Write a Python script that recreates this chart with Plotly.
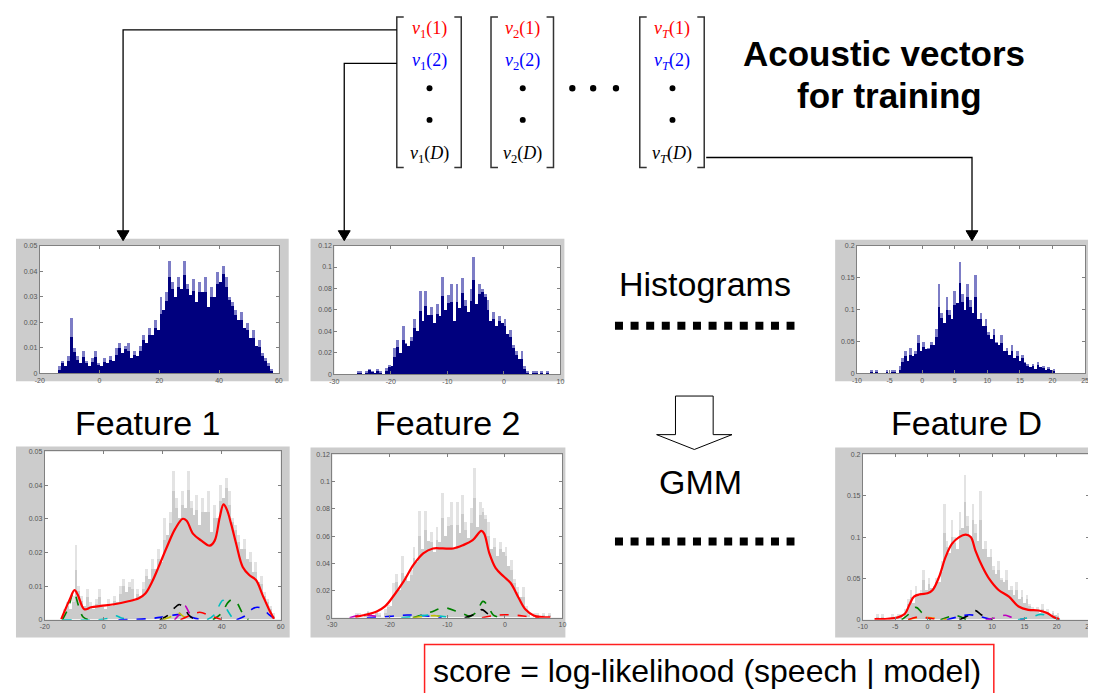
import numpy as np
import plotly.graph_objects as go

W, H = 1096, 693
OFF = 8  # page body margin of the browser
FW, FH = W - OFF, H - OFF

# ---------------- data ----------------
# Feature 1 histogram (bins of width 1 starting at -14)
F1_BIN_START, F1_BIN_WIDTH = -14.0, 1.0
F1_HEIGHTS = [0.003, 0.005, 0.003, 0.007, 0.022, 0.010, 0.007, 0.004, 0.009, 0.005,
              0.003, 0.006, 0.009, 0.004, 0.003, 0.006, 0.004, 0.007, 0.005, 0.010,
              0.012, 0.008, 0.011, 0.012, 0.006, 0.009, 0.007, 0.011, 0.015, 0.012,
              0.018, 0.015, 0.021, 0.017, 0.030, 0.025, 0.032, 0.044, 0.036, 0.030,
              0.038, 0.033, 0.044, 0.035, 0.031, 0.037, 0.028, 0.036, 0.032, 0.038,
              0.026, 0.034, 0.030, 0.040, 0.036, 0.042, 0.038, 0.030, 0.028, 0.025,
              0.021, 0.024, 0.018, 0.020, 0.014, 0.017, 0.011, 0.013, 0.008, 0.006,
              0.004, 0.002]
F1_GMM_X = [-14.4, -11.6, -9.9, -8.8, -6.6, -4.3, -1.0, 3.5, 8.0, 11.9, 14.1, 16.4, 18.6,
            21.4, 24.2, 26.8, 28.1, 30.3, 33.1, 35.9, 37.6, 39.3, 40.6, 41.7, 43.2, 44.9,
            47.1, 49.4, 51.6, 53.8, 56.1, 57.7]
F1_GMM_Y = [0.0002, 0.0059, 0.0088, 0.0074, 0.0031, 0.0037, 0.0041, 0.0046, 0.0054, 0.0064,
            0.0078, 0.0113, 0.0157, 0.0216, 0.0270, 0.0300, 0.0294, 0.0255, 0.0235, 0.0220,
            0.0235, 0.0304, 0.0343, 0.0328, 0.0284, 0.0225, 0.0157, 0.0132, 0.0118, 0.0074,
            0.0029, 0.0003]
F1_COMPONENTS = [
    ("#008000", [-14, -12, -10.2, -8.5, -7, -5], [0, 0.0035, 0.0083, 0.004, 0.0008, 0]),
    ("#00bfbf", [-14, -2, 2, 4, 6, 10], [0, 0, 0.0005, 0.0012, 0.0005, 0]),
    ("#00bfbf", [35, 37.5, 39.3, 40.4, 41.8, 44], [0, 0.0015, 0.0045, 0.0058, 0.003, 0]),
    ("#008000", [37, 40, 42, 43.5, 45, 47, 49], [0, 0.002, 0.005, 0.006, 0.0052, 0.002, 0]),
    ("#0000ff", [5, 15, 20, 25, 28, 31, 34], [0, 0.0003, 0.0008, 0.0015, 0.0012, 0.0004, 0]),
    ("#0000ff", [45, 48, 50, 52, 54, 56, 58], [0, 0.0012, 0.003, 0.0037, 0.0032, 0.0015, 0.0003]),
    ("#000000", [19, 22, 24, 25.5, 27, 29, 31], [0, 0.0015, 0.0035, 0.0045, 0.0038, 0.0012, 0]),
    ("#bf00bf", [24, 26, 27.5, 29, 31], [0, 0.002, 0.0042, 0.002, 0]),
    ("#bfbf00", [20, 23, 25, 27, 30], [0, 0.001, 0.0022, 0.001, 0]),
    ("#ff0000", [26, 29, 32.5, 36, 40], [0, 0.0012, 0.0022, 0.0012, 0]),
]
F1_XTICKS = [-20, 0, 20, 40, 60]
F1_YTICKS = [0, 0.01, 0.02, 0.03, 0.04, 0.05]
F1_YTICKTEXT = ["0", "0.01", "0.02", "0.03", "0.04", "0.05"]
F1_XRANGE, F1_YRANGE = [-20, 60], [0, 0.05]

# Feature 2 histogram (bins of width 0.5 starting at -26.5)
F2_BIN_START, F2_BIN_WIDTH = -26.5, 0.5
F2_HEIGHTS = [0.000, 0.003, 0.003, 0.000, 0.003, 0.005, 0.003, 0.002, 0.005, 0.003,
              0.000, 0.006, 0.009, 0.008, 0.025, 0.032, 0.020, 0.045, 0.030, 0.027,
              0.035, 0.052, 0.041, 0.078, 0.050, 0.078, 0.056, 0.063, 0.048, 0.066,
              0.055, 0.091, 0.060, 0.074, 0.085, 0.050, 0.085, 0.062, 0.090, 0.070,
              0.058, 0.080, 0.110, 0.066, 0.085, 0.080, 0.075, 0.070, 0.050, 0.058,
              0.045, 0.055, 0.048, 0.052, 0.038, 0.042, 0.028, 0.022, 0.015, 0.022,
              0.008, 0.003, 0.000, 0.003, 0.003, 0.000, 0.003, 0.000, 0.003]
F2_GMM_X = [-26.0, -24.0, -22.2, -20.8, -19.4, -17.6, -15.9, -14.2, -12.5, -10.8, -9.0,
            -7.3, -5.6, -4.1, -3.6, -2.7, -1.6, -0.2, 1.0, 2.4, 3.6, 5.0, 7.9]
F2_GMM_Y = [0.0007, 0.0024, 0.0048, 0.0085, 0.0158, 0.0267, 0.0388, 0.0473, 0.0509, 0.0509,
            0.0509, 0.0533, 0.0570, 0.0638, 0.0618, 0.0473, 0.0364, 0.0303, 0.0255, 0.0145,
            0.0060, 0.0017, 0.0002]
F2_COMPONENTS = [
    ("#008000", [-16, -13, -10.5, -8, -6], [0, 0.004, 0.0073, 0.004, 0.0008]),
    ("#008000", [-6.5, -5, -3.8, -3, -2, -0.5], [0, 0.004, 0.012, 0.009, 0.002, 0]),
    ("#000000", [-7, -5, -4, -3, -1.5], [0, 0.003, 0.006, 0.003, 0]),
    ("#ff0000", [-4, -2, 0, 2, 4, 6], [0, 0.0015, 0.0022, 0.0018, 0.0008, 0]),
    ("#0000ff", [-24, -20, -17, -14, -11], [0, 0.001, 0.002, 0.0015, 0]),
    ("#bf00bf", [-27, -25, -23, -21], [0, 0.002, 0.0015, 0]),
    ("#00bfbf", [-18, -15, -13, -11, -9], [0, 0.0012, 0.002, 0.001, 0]),
    ("#bfbf00", [-16, -14, -12, -10], [0, 0.001, 0.0015, 0]),
]
F2_XTICKS = [-30, -20, -10, 0, 10]
F2_YTICKS = [0, 0.02, 0.04, 0.06, 0.08, 0.1, 0.12]
F2_YTICKTEXT = ["0", "0.02", "0.04", "0.06", "0.08", "0.1", "0.12"]
F2_XRANGE, F2_YRANGE = [-30, 10], [0, 0.12]

# Feature D histogram (bins of width 0.4 starting at -8)
FD_BIN_START, FD_BIN_WIDTH = -8.0, 0.4
FD_HEIGHTS = [0.006, 0.000, 0.006, 0.000, 0.000, 0.000, 0.006, 0.000, 0.006, 0.006,
              0.000, 0.012, 0.025, 0.035, 0.020, 0.040, 0.028, 0.035, 0.060, 0.035,
              0.050, 0.038, 0.040, 0.050, 0.045, 0.070, 0.140, 0.095, 0.080, 0.120,
              0.100, 0.085, 0.130, 0.110, 0.175, 0.125, 0.100, 0.140, 0.115, 0.095,
              0.155, 0.085, 0.095, 0.075, 0.085, 0.065, 0.055, 0.070, 0.050, 0.045,
              0.060, 0.035, 0.040, 0.030, 0.045, 0.025, 0.035, 0.020, 0.030, 0.018,
              0.015, 0.010, 0.015, 0.008, 0.018, 0.010, 0.012, 0.005, 0.010, 0.005,
              0.008, 0.000]
FD_GMM_X = [-8.2, -6.2, -4.6, -3.5, -2.8, -2.1, -1.0, 0.0, 0.8, 1.8, 2.8, 3.8, 4.9, 5.9,
            6.7, 7.4, 8.5, 9.5, 11.0, 12.6, 14.1, 15.6, 17.2, 18.5, 19.5, 20.4]
FD_GMM_Y = [0.0008, 0.0012, 0.0028, 0.0072, 0.018, 0.028, 0.031, 0.032, 0.036, 0.052,
            0.076, 0.092, 0.100, 0.103, 0.100, 0.084, 0.064, 0.050, 0.036, 0.028,
            0.016, 0.012, 0.0112, 0.008, 0.0032, 0.0008]
FD_COMPONENTS = [
    ("#008000", [-4, -3, -1.8, -0.8, 0.5], [0, 0.006, 0.015, 0.008, 0]),
    ("#008000", [2, 3.5, 4.5, 6], [0, 0.004, 0.005, 0]),
    ("#000000", [5, 6.5, 7.4, 8.3, 10], [0, 0.006, 0.011, 0.006, 0]),
    ("#0000ff", [3, 5, 6.5, 8, 10], [0, 0.004, 0.006, 0.004, 0]),
    ("#bf00bf", [9, 11, 12, 13, 15], [0, 0.003, 0.0055, 0.003, 0]),
    ("#00bfbf", [14, 16, 17.5, 19, 20.5], [0, 0.003, 0.0065, 0.004, 0]),
    ("#ff8000", [-3, -1, 1, 3], [0, 0.003, 0.002, 0]),
    ("#ff0000", [-3, -1.5, 0, 2], [0, 0.0035, 0.002, 0]),
]
FD_XTICKS = [-10, -5, 0, 5, 10, 15, 20, 25]
FD_YTICKS = [0, 0.05, 0.1, 0.15, 0.2]
FD_YTICKTEXT = ["0", "0.05", "0.1", "0.15", "0.2"]
FD_XRANGE, FD_YRANGE = [-10, 25], [0, 0.2]

FEATURES = [
    dict(start=F1_BIN_START, width=F1_BIN_WIDTH, h=F1_HEIGHTS, gx=F1_GMM_X, gy=F1_GMM_Y,
         comps=F1_COMPONENTS, xt=F1_XTICKS, yt=F1_YTICKS, ytt=F1_YTICKTEXT,
         xr=F1_XRANGE, yr=F1_YRANGE),
    dict(start=F2_BIN_START, width=F2_BIN_WIDTH, h=F2_HEIGHTS, gx=F2_GMM_X, gy=F2_GMM_Y,
         comps=F2_COMPONENTS, xt=F2_XTICKS, yt=F2_YTICKS, ytt=F2_YTICKTEXT,
         xr=F2_XRANGE, yr=F2_YRANGE),
    dict(start=FD_BIN_START, width=FD_BIN_WIDTH, h=FD_HEIGHTS, gx=FD_GMM_X, gy=FD_GMM_Y,
         comps=FD_COMPONENTS, xt=FD_XTICKS, yt=FD_YTICKS, ytt=FD_YTICKTEXT,
         xr=FD_XRANGE, yr=FD_YRANGE),
]

# ---------------- layout geometry (screen pixels) ----------------
# (grey frame: l, r, t, b), (plot area: l, r, t, b)
TOP_PANELS = [((11, 286, 237, 381), (35, 276, 244, 373)),
              ((308, 564, 237, 381), (332, 560, 244, 374)),
              ((837, 1096, 238, 381), (859, 1089, 244, 373))]
BOT_PANELS = [((11, 287, 447, 640), (40, 278, 452, 622)),
              ((308, 565, 448, 640), (330, 562, 455, 620)),
              ((837, 1096, 448, 640), (865, 1093, 455, 622))]


def fx(x):
    return (x - OFF) / FW


def fy(y):
    return 1 - (y - OFF) / FH


def path_px(points, close=False):
    s = ""
    for i, (x, y) in enumerate(points):
        s += ("M" if i == 0 else "L") + f"{fx(x):.5f},{fy(y):.5f} "
    if close:
        s += "Z"
    return s


fig = go.Figure()
shapes = []
annotations = []
layout_axes = {}

TICKFONT = dict(size=7, color="#555555", family="Liberation Sans")


def add_axes(idx, plot_px, feat):
    l, r, t, b = plot_px
    xname = "xaxis" if idx == 1 else f"xaxis{idx}"
    yname = "yaxis" if idx == 1 else f"yaxis{idx}"
    common = dict(showline=True, linecolor="#808080", linewidth=1, mirror="ticks",
                  ticks="inside", ticklen=3, tickcolor="#808080", showgrid=False,
                  zeroline=False, tickfont=TICKFONT, fixedrange=True)
    layout_axes[xname] = dict(common, domain=[fx(l), min(fx(r), 1.0)], range=feat["xr"],
                              anchor=f"y{idx}" if idx > 1 else "y",
                              tickvals=feat["xt"], ticktext=[str(v) for v in feat["xt"]])
    layout_axes[yname] = dict(common, domain=[fy(b), fy(t)], range=feat["yr"],
                              anchor=f"x{idx}" if idx > 1 else "x",
                              tickvals=feat["yt"], ticktext=feat["ytt"])


def axrefs(idx):
    return ("x" if idx == 1 else f"x{idx}"), ("y" if idx == 1 else f"y{idx}")


for k, feat in enumerate(FEATURES):
    h = np.array(feat["h"])
    centers = feat["start"] + feat["width"] * (np.arange(len(h)) + 0.5)
    left_n = np.concatenate([[0.0], h[:-1]])
    right_n = np.concatenate([h[1:], [0.0]])
    core = np.minimum(h, np.minimum(left_n, right_n) * 0.5 + h * 0.5)

    # top panel: histogram
    idx = k + 1
    grey, plot = TOP_PANELS[k]
    add_axes(idx, plot, feat)
    xa, ya = axrefs(idx)
    fig.add_trace(go.Bar(x=centers, y=h, width=feat["width"], marker_color="#7d7dc6",
                         marker_line_width=0, xaxis=xa, yaxis=ya))
    fig.add_trace(go.Bar(x=centers, y=core, width=feat["width"], marker_color="#00007e",
                         marker_line_width=0, xaxis=xa, yaxis=ya))

    # bottom panel: histogram + GMM
    idx = k + 4
    grey, plot = BOT_PANELS[k]
    add_axes(idx, plot, feat)
    xa, ya = axrefs(idx)
    fig.add_trace(go.Bar(x=centers, y=h, width=feat["width"], marker_color="#e3e3e3",
                         marker_line_width=0, xaxis=xa, yaxis=ya))
    fig.add_trace(go.Bar(x=centers, y=core, width=feat["width"], marker_color="#cbcbcb",
                         marker_line_width=0, xaxis=xa, yaxis=ya))
    for color, cx, cy in feat["comps"]:
        fig.add_trace(go.Scatter(x=cx, y=cy, mode="lines", line_shape="spline",
                                 line=dict(color=color, width=1.6, dash="dash"),
                                 xaxis=xa, yaxis=ya))
    fig.add_trace(go.Scatter(x=feat["gx"], y=feat["gy"], mode="lines", line_shape="spline",
                             line=dict(color="#ff0000", width=2.2), xaxis=xa, yaxis=ya))

# panel backgrounds
for grey, plot in TOP_PANELS + BOT_PANELS:
    gl, gr, gt, gb = grey
    pl, pr, pt, pb = plot
    shapes.append(dict(type="rect", xref="paper", yref="paper", x0=fx(gl), x1=fx(gr),
                       y0=fy(gb), y1=fy(gt), fillcolor="#cccccc", line_width=0, layer="below"))
    shapes.append(dict(type="rect", xref="paper", yref="paper", x0=fx(pl), x1=fx(pr),
                       y0=fy(pb), y1=fy(pt), fillcolor="#ffffff", line_width=0, layer="below"))

# ---------------- vectors ----------------
VEC_BRACKETS = [(395, 460), (490, 553), (640, 705)]
VEC_CENTERS = [428, 522, 673]
VEC_SUBS = ["1", "2", "<i>T</i>"]
BR_TOP, BR_BOT = 13, 165
for (bl, br), cx, sub in zip(VEC_BRACKETS, VEC_CENTERS, VEC_SUBS):
    shapes.append(dict(type="path", xref="paper", yref="paper",
                       path=path_px([(bl + 7, BR_TOP), (bl, BR_TOP), (bl, BR_BOT), (bl + 7, BR_BOT)]),
                       line=dict(color="#333333", width=1.5)))
    shapes.append(dict(type="path", xref="paper", yref="paper",
                       path=path_px([(br - 7, BR_TOP), (br, BR_TOP), (br, BR_BOT), (br - 7, BR_BOT)]),
                       line=dict(color="#333333", width=1.5)))
    for txt, yy, col in [("(1)", 26, "#ff0000"), ("(2)", 58, "#0000ff"), ("(<i>D</i>)", 152, "#000000")]:
        annotations.append(dict(xref="paper", yref="paper", x=fx(cx), y=fy(yy),
                                text=f"<i>v</i><sub>{sub}</sub>{txt}", showarrow=False,
                                xanchor="center", yanchor="middle",
                                font=dict(family="Liberation Serif", size=18, color=col)))
    for yy in (85, 117):
        shapes.append(dict(type="circle", xref="paper", yref="paper",
                           x0=fx(cx - 3), x1=fx(cx + 3), y0=fy(yy + 3), y1=fy(yy - 3),
                           fillcolor="black", line_width=0))
for xx in (572, 593, 616):
    shapes.append(dict(type="circle", xref="paper", yref="paper",
                       x0=fx(xx - 3.2), x1=fx(xx + 3.2), y0=fy(85 + 3.2), y1=fy(85 - 3.2),
                       fillcolor="black", line_width=0))

# connectors
CONNECTORS = [[(395, 26), (119, 26), (119, 231)],
              [(395, 60), (342, 60), (342, 231)],
              [(707, 155), (975, 155), (975, 231)]]
for pts in CONNECTORS:
    shapes.append(dict(type="path", xref="paper", yref="paper", path=path_px(pts),
                       line=dict(color="black", width=1.3)))
    tx = pts[-1][0]
    shapes.append(dict(type="path", xref="paper", yref="paper",
                       path=path_px([(tx - 6, 229), (tx + 6, 229), (tx, 239)], close=True),
                       fillcolor="black", line=dict(color="black", width=1)))

# hollow arrow
shapes.append(dict(type="path", xref="paper", yref="paper",
                   path=path_px([(676, 396), (714, 396), (714, 435), (733, 435), (695, 450),
                                 (657, 435), (676, 435)], close=True),
                   fillcolor="white", line=dict(color="black", width=1)))

# dotted separators
for yy in (325, 543):
    shapes.append(dict(type="line", xref="paper", yref="paper", x0=fx(615), x1=fx(796),
                       y0=fy(yy), y1=fy(yy), line=dict(color="black", width=8, dash="8px,7.6px")))

# score box
shapes.append(dict(type="rect", xref="paper", yref="paper", x0=fx(423), x1=fx(997),
                   y0=fy(705), y1=fy(647), line=dict(color="#ff2020", width=1.5),
                   fillcolor="rgba(0,0,0,0)"))

# ---------------- texts ----------------
SANS = "Liberation Sans"
TEXTS = [
    ("<b>Acoustic vectors</b>", 886, 50, 35),
    ("<b>for training</b>", 892, 92, 35),
    ("Histograms", 706, 283, 34),
    ("Feature 1", 144, 423, 34),
    ("Feature 2", 447, 423, 34),
    ("Feature D", 969, 423, 34),
    ("GMM", 701, 483, 34),
    ("score = log-likelihood (speech | model)", 708, 674, 32),
]
for txt, x, y, size in TEXTS:
    annotations.append(dict(xref="paper", yref="paper", x=fx(x), y=fy(y), text=txt,
                            showarrow=False, xanchor="center", yanchor="middle",
                            font=dict(family=SANS, size=size, color="black")))

fig.update_layout(width=FW, height=FH, margin=dict(l=0, r=0, t=0, b=0),
                  paper_bgcolor="white", plot_bgcolor="rgba(0,0,0,0)",
                  showlegend=False, barmode="overlay", bargap=0,
                  shapes=shapes, annotations=annotations, **layout_axes)

fig.write_html("out.html")
